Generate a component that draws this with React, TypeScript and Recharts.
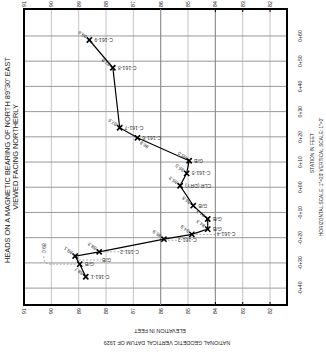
import React from 'react';
import {
  ScatterChart,
  Scatter,
  XAxis,
  YAxis,
  CartesianGrid,
  ReferenceLine,
  ReferenceArea,
} from 'recharts';

// piezometer / gauge readings along the section, top to bottom
const NAMES = [
  'C-161-9', 'C-161-8', 'C-161-7', 'C-161-6', 'G/B', 'C-161-5', 'CLR (DRY)', 'G/B',
  'G/B', 'G/B', 'C-161-4', 'C-161-3', 'C-161-2', 'G/B', 'G/B', 'C-161-1',
];
const ELEVATIONS = [
  88.61, 87.75, 87.5, 86.85, 84.96, 85.05, 85.29, 84.81,
  84.28, 84.28, 84.86, 85.88, 88.25, 89.13, 88.96, 88.74,
];
const STATIONS = [
  58.4, 47.4, 23.6, 19.6, 10.5, 5.5, 0.6, -7.3,
  -12.6, -16.6, -18.7, -20.6, -25.6, -27.3, -30.5, -35.5,
];

const ELEV_TICKS = [82, 83, 84, 85, 86, 87, 88, 89, 90, 91];
const STATION_TICKS = [-40, -30, -20, -10, 0, 10, 20, 30, 40, 50, 60];
const ELEV_DOMAIN = [81.38, 91];
const STATION_DOMAIN = [-46.7, 70.7];

const points = NAMES.map((name, i) => ({
  name,
  elev: ELEVATIONS[i],
  sta: STATIONS[i],
  i,
}));

const FONT = '"Liberation Sans", Arial, sans-serif';
const INK = '#222';
const LABEL = '#333';

// label tweaks (leader lengths in px, extra drop)
const LEADER: Record<number, number> = { 10: 20, 11: 9, 12: 16, 13: 22 };
const DROP: Record<number, number> = { 11: 1, 13: 4 };

const fmtStation = (v: number) => {
  const a = String(Math.abs(v)).padStart(2, '0');
  return v < 0 ? `-0+${a}` : `0+${a}`;
};

const TopTick = (props: any) => {
  const { x, payload } = props;
  return (
    <g>
      <text
        transform={`translate(${x},4) rotate(-90)`}
        textAnchor="middle"
        dominantBaseline="central"
        fontSize={5.2}
        fill={INK}
        fontFamily={FONT}
      >
        {payload.value}
      </text>
      {payload.value <= 84 && <line x1={x} x2={x} y1={9} y2={12} stroke="#000" strokeWidth={1} />}
    </g>
  );
};

const BottomTick = (props: any) => {
  const { x, payload } = props;
  return (
    <g>
      <text
        transform={`translate(${x},311) rotate(-90)`}
        textAnchor="middle"
        dominantBaseline="central"
        fontSize={5.2}
        fill={INK}
        fontFamily={FONT}
      >
        {payload.value}
      </text>
      {payload.value <= 84 && <line x1={x} x2={x} y1={302} y2={305} stroke="#000" strokeWidth={1} />}
    </g>
  );
};

const StationTick = (props: any) => {
  const { y, payload } = props;
  return (
    <text
      transform={`translate(300,${y}) rotate(-90)`}
      textAnchor="middle"
      dominantBaseline="central"
      fontSize={5.2}
      fill={INK}
      fontFamily={FONT}
    >
      {fmtStation(payload.value)}
    </text>
  );
};

const Marker = (props: any) => {
  const { cx, cy, payload } = props;
  const i = payload.i;
  const lead = LEADER[i] ?? 0;
  const drop = DROP[i] ?? 0;
  const nx = cx + 5 + lead;
  const ny = cy + drop;
  const val = payload.elev.toFixed(1);
  const s = 2.6;
  return (
    <g>
      <line x1={cx - s} y1={cy - s} x2={cx + s} y2={cy + s} stroke="#000" strokeWidth={1.6} />
      <line x1={cx - s} y1={cy + s} x2={cx + s} y2={cy - s} stroke="#000" strokeWidth={1.6} />
      {lead > 0 && (
        <line x1={cx + 4} y1={ny} x2={nx - 1} y2={ny} stroke="#777" strokeWidth={0.6} strokeDasharray="2 1.5" />
      )}
      <text
        transform={`translate(${nx},${ny}) rotate(180)`}
        textAnchor="end"
        dominantBaseline="central"
        fontSize={5.2}
        fill={LABEL}
        fontFamily={FONT}
      >
        {payload.name}
      </text>
      {i === 14 ? (
        <g>
          <path
            d={`M${cx - 36},${cy - 8} Q${cx - 36},${cy} ${cx - 30},${cy} L${cx - 4},${cy}`}
            fill="none"
            stroke="#777"
            strokeWidth={0.6}
            strokeDasharray="2 1.5"
          />
          <text
            transform={`translate(${cx - 36},${cy - 16}) rotate(90)`}
            textAnchor="middle"
            dominantBaseline="central"
            fontSize={5}
            fill={LABEL}
            fontFamily={FONT}
          >
            {val}
          </text>
        </g>
      ) : i === 3 ? (
        <text
          transform={`translate(${cx + 3},${cy + 4}) rotate(-145)`}
          textAnchor="end"
          dominantBaseline="central"
          fontSize={4.8}
          fill={LABEL}
          fontFamily={FONT}
        >
          {val}
        </text>
      ) : (
        <text
          transform={`translate(${cx - 3},${cy - 3}) rotate(-145)`}
          textAnchor="start"
          dominantBaseline="central"
          fontSize={4.8}
          fill={LABEL}
          fontFamily={FONT}
        >
          {val}
        </text>
      )}
    </g>
  );
};

export default function App() {
  return (
    <div style={{ position: 'absolute', left: 0, top: 0, width: 326, height: 358, background: '#fff' }}>
      <ScatterChart width={326} height={358} margin={{ top: 0, right: 19, bottom: 33, left: 24 }}>
        <CartesianGrid xAxisId="b" yAxisId="s" horizontal={false} stroke="#c4c4c4" strokeWidth={1} />
        <CartesianGrid xAxisId="b" yAxisId="s" vertical={false} stroke="#999" strokeWidth={1} />
        <XAxis
          xAxisId="t"
          orientation="top"
          type="number"
          dataKey="elev"
          domain={ELEV_DOMAIN}
          reversed
          ticks={ELEV_TICKS}
          height={9}
          tick={<TopTick />}
          axisLine={false}
          tickLine={false}
          allowDataOverflow
        />
        <XAxis
          xAxisId="b"
          orientation="bottom"
          type="number"
          dataKey="elev"
          domain={ELEV_DOMAIN}
          reversed
          ticks={ELEV_TICKS}
          height={20}
          tick={<BottomTick />}
          axisLine={false}
          tickLine={false}
          allowDataOverflow
        />
        <YAxis
          yAxisId="s"
          orientation="right"
          type="number"
          dataKey="sta"
          domain={STATION_DOMAIN}
          ticks={STATION_TICKS}
          width={20}
          tick={<StationTick />}
          axisLine={false}
          tickLine={false}
          allowDataOverflow
        />
        <ReferenceLine xAxisId="b" yAxisId="s" x={86} stroke="#8c8c8c" />
        <ReferenceLine xAxisId="b" yAxisId="s" x={84} stroke="#8c8c8c" />
        <ReferenceArea
          xAxisId="b"
          yAxisId="s"
          x1={ELEV_DOMAIN[0]}
          x2={ELEV_DOMAIN[1]}
          y1={STATION_DOMAIN[0]}
          y2={STATION_DOMAIN[1]}
          fill="none"
          fillOpacity={0}
          stroke="#000"
          strokeWidth={2}
        />
        <Scatter
          xAxisId="b"
          yAxisId="s"
          data={points}
          line={{ stroke: '#000', strokeWidth: 1.2 }}
          lineType="joint"
          shape={<Marker />}
          isAnimationActive={false}
        />
      </ScatterChart>
      <svg
        width={326}
        height={358}
        style={{ position: 'absolute', left: 0, top: 0, pointerEvents: 'none' }}
        fontFamily={FONT}
        fill={INK}
      >
        <text transform="translate(7,160) rotate(-90)" textAnchor="middle" dominantBaseline="central" fontSize={7.4}>
          HEADS ON A MAGNETIC BEARING OF NORTH 89°30' EAST
        </text>
        <text transform="translate(15,157) rotate(-90)" textAnchor="middle" dominantBaseline="central" fontSize={7.4}>
          VIEWED FACING NORTHERLY
        </text>
        <text transform="translate(312.5,153) rotate(-90)" textAnchor="middle" dominantBaseline="central" fontSize={4.8}>
          STATION IN FEET
        </text>
        <text transform="translate(321.5,177) rotate(-90)" textAnchor="middle" dominantBaseline="central" fontSize={4.8}>
          {'HORIZONTAL SCALE: 1"=20\'   VERTICAL SCALE: 1"=2\''}
        </text>
        <text transform="translate(160,331) rotate(180)" textAnchor="middle" dominantBaseline="central" fontSize={5.4}>
          ELEVATION IN FEET
        </text>
        <text transform="translate(167,343) rotate(180)" textAnchor="middle" dominantBaseline="central" fontSize={5.4}>
          NATIONAL GEODETIC VERTICAL DATUM OF 1929
        </text>
      </svg>
    </div>
  );
}
